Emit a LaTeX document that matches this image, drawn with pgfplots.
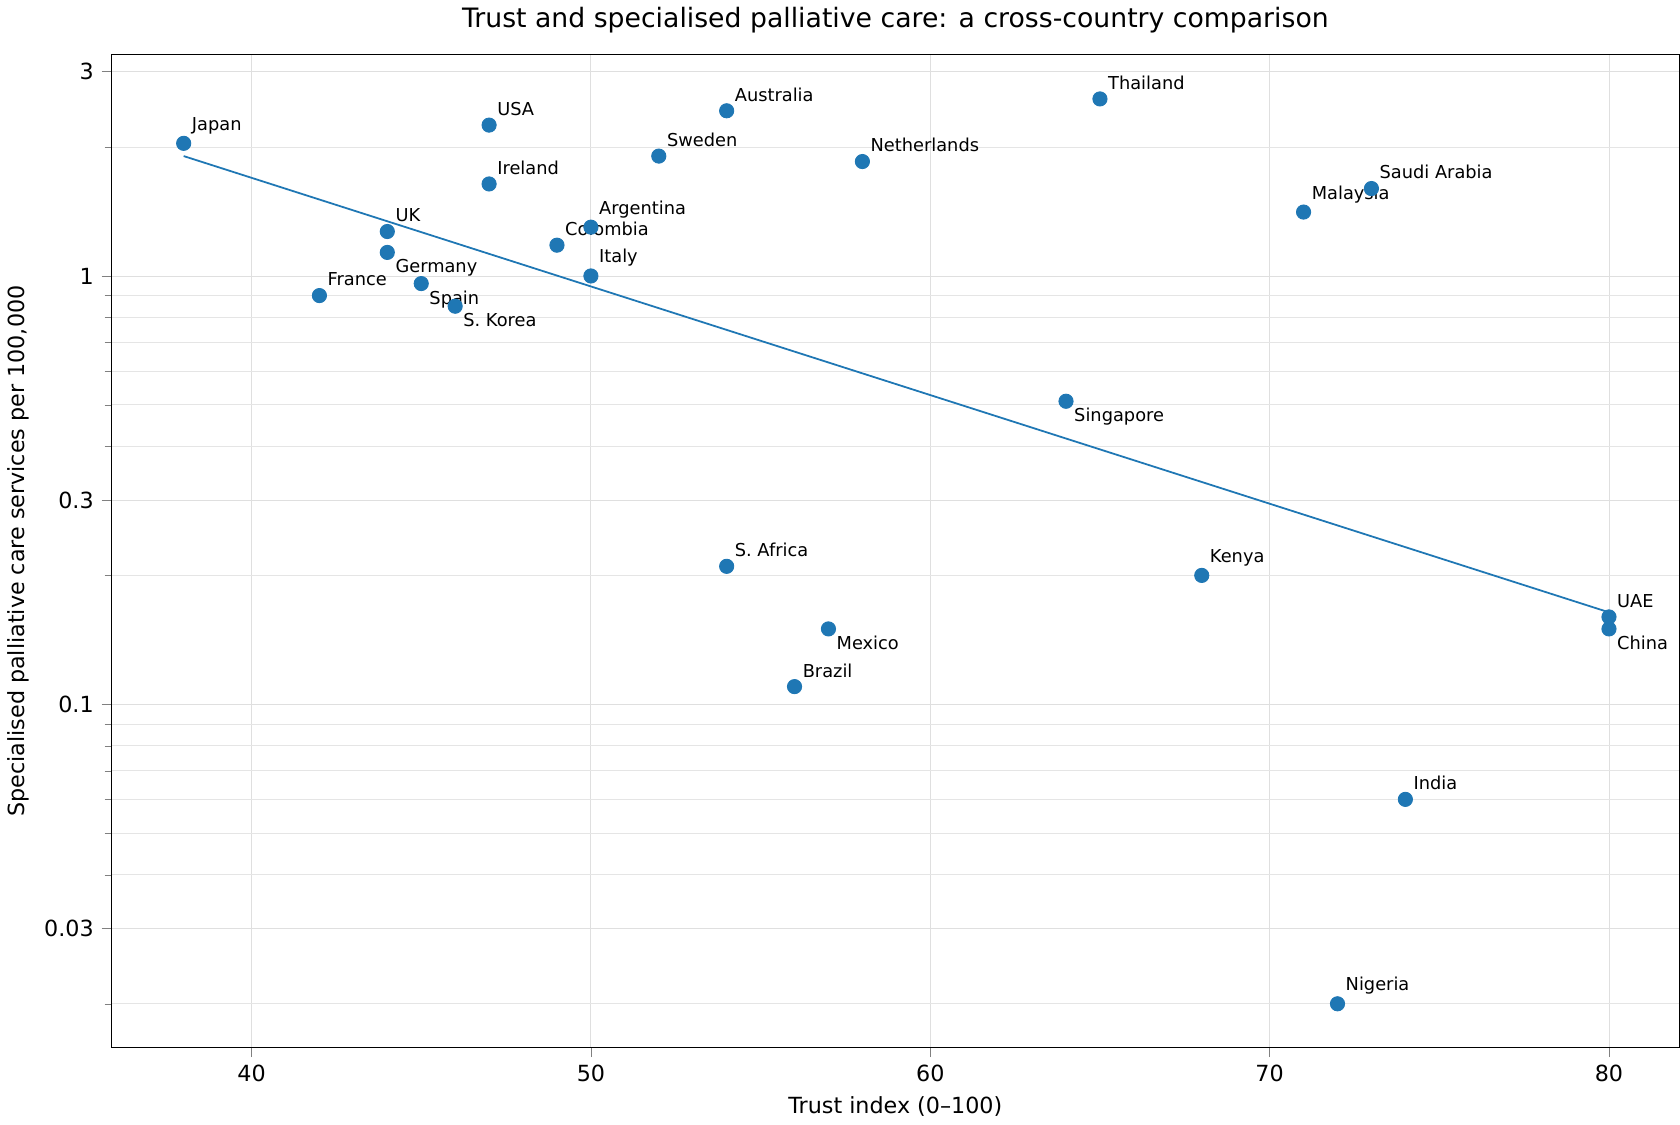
\documentclass[border=0pt]{standalone}
\usepackage{pgfplots}
\pgfplotsset{compat=1.18}
\usepackage{fontspec}
\setmainfont{DejaVu Sans}
\definecolor{mplblue}{HTML}{1F77B4}
\begin{document}
\begin{tikzpicture}
\tikzset{lab/.style={font=\fontsize{8}{9}\selectfont, inner sep=0pt, anchor=south west, xshift=3.5pt, yshift=4pt},
  labb/.style={font=\fontsize{8}{9}\selectfont, inner sep=0pt, anchor=north west, xshift=3.5pt, yshift=-3pt}}
\begin{axis}[
  scale only axis, width=9.76in, height=6.18in,
  ymode=log, xmin=35.86, xmax=82.08, ymin=0.0158, ymax=3.29,
  xtick={40,50,60,70,80},
  ytick={0.03,0.1,0.3,1,3}, yticklabels={0.03,0.1,0.3,1,3},
  minor ytick={0.02,0.04,0.05,0.06,0.07,0.08,0.09,0.2,0.4,0.5,0.6,0.7,0.8,0.9,2},
  grid=both, major grid style={gray!25}, minor grid style={gray!20},
  tick label style={font=\fontsize{10}{12}\selectfont},
  /pgf/number format/assume math mode=true,
  xlabel={Trust index (0–100)}, ylabel={Specialised palliative care services per 100,000},
  label style={font=\fontsize{10}{12}\selectfont},
  title={Trust and specialised palliative care: a cross-country comparison},
  title style={font=\fontsize{12}{14}\selectfont},
  tick align=outside, tick pos=left,
]
\addplot[only marks, mark=*, mark size=3.2pt, color=mplblue] coordinates {
(38,2.04)(47,2.25)(54,2.43)(65,2.59)(52,1.905)(58,1.85)(47,1.64)(73,1.60)(71,1.41)
(44,1.27)(50,1.30)(49,1.18)(44,1.135)(45,0.96)(46,0.85)(42,0.90)(50,1.0)(64,0.51)
(54,0.21)(68,0.20)(80,0.16)(80,0.15)(57,0.15)(56,0.11)(74,0.060)(72,0.020)};
\addplot[thick, color=mplblue] coordinates {(38,1.905)(80,0.164)};
\node[lab] at (axis cs:38,2.04) {Japan};
\node[lab] at (axis cs:47,2.25) {USA};
\node[lab] at (axis cs:54,2.43) {Australia};
\node[lab] at (axis cs:65,2.59) {Thailand};
\node[lab] at (axis cs:52,1.905) {Sweden};
\node[lab] at (axis cs:58,1.85) {Netherlands};
\node[lab] at (axis cs:47,1.64) {Ireland};
\node[lab] at (axis cs:73,1.60) {Saudi Arabia};
\node[lab] at (axis cs:71,1.41) {Malaysia};
\node[lab] at (axis cs:44,1.27) {UK};
\node[lab] at (axis cs:50,1.30) {Argentina};
\node[lab] at (axis cs:49,1.18) {Colombia};
\node[lab] at (axis cs:42,0.90) {France};
\node[lab] at (axis cs:50,1.0) {Italy};
\node[lab] at (axis cs:54,0.21) {S. Africa};
\node[lab] at (axis cs:68,0.20) {Kenya};
\node[lab] at (axis cs:80,0.16) {UAE};
\node[lab] at (axis cs:56,0.11) {Brazil};
\node[lab] at (axis cs:74,0.060) {India};
\node[lab] at (axis cs:72,0.020) {Nigeria};
\node[labb] at (axis cs:44,1.135) {Germany};
\node[labb] at (axis cs:45,0.96) {Spain};
\node[labb] at (axis cs:46,0.85) {S. Korea};
\node[labb] at (axis cs:64,0.51) {Singapore};
\node[labb] at (axis cs:57,0.15) {Mexico};
\node[labb] at (axis cs:80,0.15) {China};
\end{axis}
\end{tikzpicture}
\end{document}
